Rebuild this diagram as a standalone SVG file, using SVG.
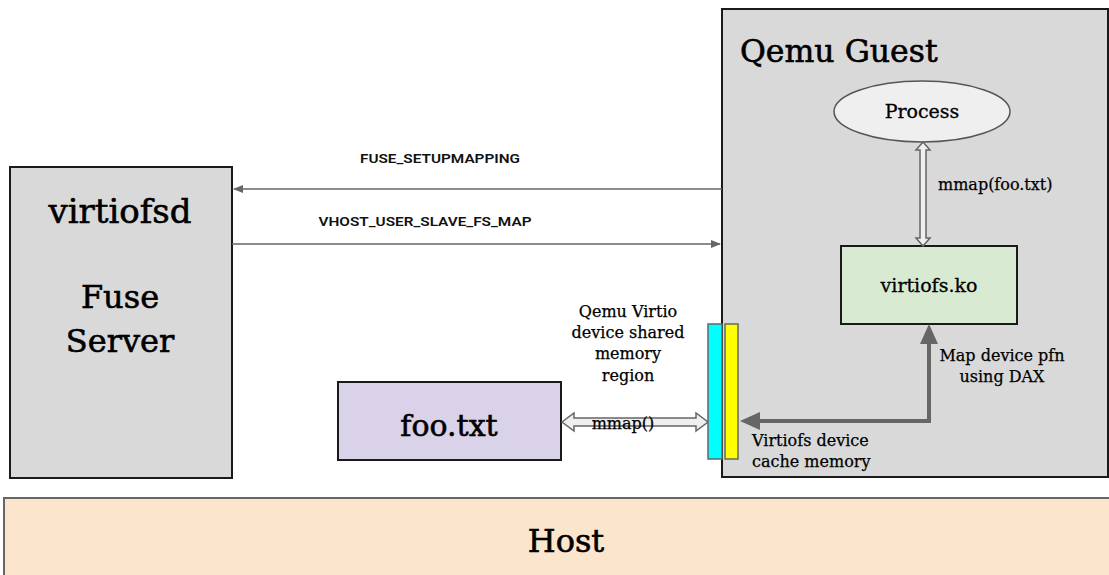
<svg xmlns="http://www.w3.org/2000/svg" width="1109" height="575" viewBox="0 0 1109 575">
<style>
.serif{font-family:"DejaVu Serif","Liberation Serif",serif;fill:#000}
.title{stroke:#000;stroke-width:0.6}
.lbl{font-family:Roboto,"Liberation Sans",sans-serif;font-size:13px;font-weight:600;fill:#111}
.box{stroke:#1a1a1a;stroke-width:2}
.hollow{fill:#efefef;stroke:#666;stroke-width:1.5}
</style>
<defs>
<marker id="ah" viewBox="0 0 10 10" refX="9" refY="5" markerWidth="10" markerHeight="10" markerUnits="userSpaceOnUse" orient="auto">
<path d="M0,1 L10,5 L0,9 z" fill="#666"/>
</marker>
</defs>
<rect width="1109" height="575" fill="#fff"/>
<g id="host">
<rect x="4" y="498" width="1115" height="100" fill="#fce5cd" stroke="#666" stroke-width="2"/>
<text class="serif title" x="566" y="552" font-size="32" text-anchor="middle">Host</text>
</g>
<g id="guest">
<rect class="box" x="722" y="9" width="386" height="468" fill="#d9d9d9"/>
<text class="serif title" x="740" y="62" font-size="31.5">Qemu Guest</text>
</g>
<g id="virtiofsd">
<rect class="box" x="10" y="167" width="222" height="311" fill="#d9d9d9"/>
<text class="serif title" x="120" y="223" font-size="34" text-anchor="middle">virtiofsd</text>
<text class="serif title" x="120" y="308" font-size="32" text-anchor="middle">Fuse</text>
<text class="serif title" x="120" y="352" font-size="32" text-anchor="middle">Server</text>
</g>
<g id="process">
<ellipse cx="922" cy="111.5" rx="88" ry="30.5" fill="#efefef" stroke="#555" stroke-width="1.5"/>
<text class="serif" x="922" y="118" font-size="19" text-anchor="middle" stroke="#000" stroke-width="0.3">Process</text>
</g>
<g id="virtiofs-ko">
<rect class="box" x="841" y="246" width="176" height="78" fill="#d9ead3"/>
<text class="serif" x="929" y="292" font-size="19" text-anchor="middle" stroke="#000" stroke-width="0.3">virtiofs.ko</text>
</g>
<g id="foo-txt">
<rect class="box" x="338" y="382" width="223" height="78" fill="#d9d2e9"/>
<text class="serif title" x="449" y="436" font-size="30" text-anchor="middle">foo.txt</text>
</g>
<g id="shared-memory">
<rect x="708" y="324" width="14" height="135" fill="#00ffff" stroke="#666" stroke-width="1.5"/>
<rect x="725" y="324" width="13" height="135" fill="#ffff00" stroke="#666" stroke-width="1.5"/>
</g>
<g id="connectors">
<line x1="722" y1="189" x2="234" y2="189" stroke="#666" stroke-width="1.5" marker-end="url(#ah)"/>
<line x1="232" y1="244" x2="720" y2="244" stroke="#666" stroke-width="1.5" marker-end="url(#ah)"/>
<polygon class="hollow" points="923,142 930,150 926,150 926,238 930,238 923,246 916,238 920,238 920,150 916,150"/>
<polygon class="hollow" points="562,422 574,413 574,418 696,418 696,413 708,422 696,431 696,426 574,426 574,431"/>
<path d="M758,421 H929 V342" fill="none" stroke="#666" stroke-width="4"/>
<polygon points="929,324 938,344 920,344" fill="#666"/>
<polygon points="740,421 760,412 760,430" fill="#666"/>
</g>
<g id="labels">
<text class="lbl" x="440" y="163" text-anchor="middle" textLength="160" lengthAdjust="spacingAndGlyphs">FUSE_SETUPMAPPING</text>
<text class="lbl" x="425" y="226" text-anchor="middle" textLength="213" lengthAdjust="spacingAndGlyphs">VHOST_USER_SLAVE_FS_MAP</text>
<g class="serif" font-size="16" stroke="#000" stroke-width="0.25">
<text x="938" y="190">mmap(foo.txt)</text>
<g text-anchor="middle">
<text x="628" y="317">Qemu Virtio</text>
<text x="628" y="338">device shared</text>
<text x="628" y="359">memory</text>
<text x="628" y="381">region</text>
<text x="623" y="429">mmap()</text>
<text x="1002" y="361">Map device pfn</text>
<text x="1002" y="382">using DAX</text>
</g>
<text x="752" y="446">Virtiofs device</text>
<text x="752" y="467">cache memory</text>
</g>
</g>
</svg>
